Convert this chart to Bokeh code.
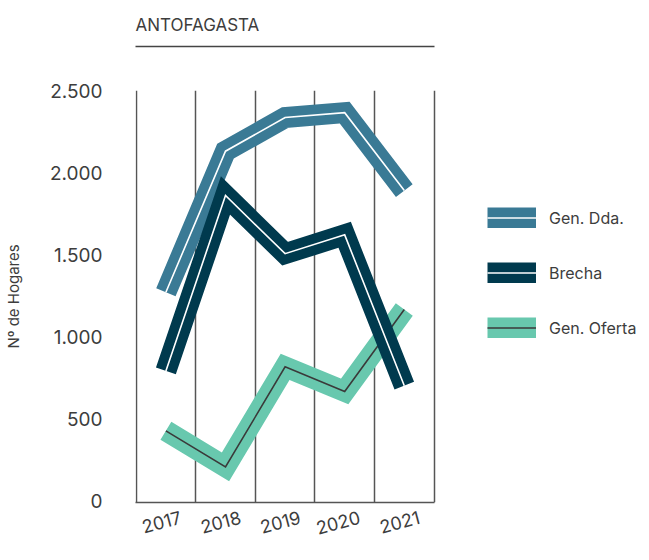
from bokeh.plotting import figure
from bokeh.models import Range1d, FixedTicker, Legend, LegendItem, LinearAxis
from bokeh.embed import file_html
from bokeh.resources import INLINE

years = ["2017", "2018", "2019", "2020", "2021"]
gen_dda = [1270, 2130, 2335, 2365, 1890]
brecha = [790, 1860, 1505, 1620, 700]
gen_oferta = [425, 205, 815, 665, 1165]
y_ticks = [0, 500, 1000, 1500, 2000, 2500]
y_tick_labels = ["0", "500", "1.000", "1.500", "2.000", "2.500"]

FONT = "Inter"
TXT = "#3d3d3d"
GRID = "#555555"
LABEL_SHIFT = 0.25   # rotated labels are right-anchored; nudge so they sit under their column
COL_PX = 59.6        # width of one year column in pixels
FRAME_W = 503        # frame also hosts the legend on its right
X0 = -0.51
X_BOUNDS = (X0, len(years) - 1 + 0.51)

x = list(range(len(years)))

p = figure(frame_width=FRAME_W, frame_height=412, output_backend="svg", toolbar_location=None,
           x_range=Range1d(X0, X0 + FRAME_W / COL_PX), y_range=Range1d(-12, 2500),
           min_border_left=128, min_border_right=0, min_border_top=86,
           min_border_bottom=46)
p.outline_line_color = None
p.background_fill_color = "white"
p.border_fill_color = "white"

# x axis (below)
xa = p.below[0]
xa.ticker = FixedTicker(ticks=[i + LABEL_SHIFT for i in x])
xa.major_label_overrides = {i + LABEL_SHIFT: y for i, y in zip(x, years)}
xa.major_label_orientation = 0.26
xa.major_label_standoff = 14
xa.major_label_text_font = FONT
xa.major_label_text_font_size = "18px"
xa.major_label_text_color = TXT
xa.axis_line_color = GRID
xa.axis_line_width = 1.5
xa.bounds = X_BOUNDS
xa.major_tick_line_color = None
xa.minor_tick_line_color = None
xa.major_tick_out = 0
xa.major_tick_in = 0

# y axis
ya = p.left[0]
ya.ticker = FixedTicker(ticks=y_ticks)
ya.major_label_overrides = dict(zip(y_ticks, y_tick_labels))
ya.major_label_standoff = 33
ya.major_label_text_font = FONT
ya.major_label_text_font_size = "19px"
ya.major_label_text_color = TXT
ya.axis_line_color = None
ya.major_tick_line_color = None
ya.minor_tick_line_color = None
ya.major_tick_out = 0
ya.major_tick_in = 0
ya.axis_label = "Nº de Hogares"
ya.axis_label_standoff = 24
ya.axis_label_text_font = FONT
ya.axis_label_text_font_size = "15px"
ya.axis_label_text_font_style = "normal"
ya.axis_label_text_color = TXT

# grids
p.ygrid.visible = False
p.xgrid.ticker = FixedTicker(ticks=[i - 0.5 for i in range(len(years) + 1)])
p.xgrid.grid_line_color = GRID
p.xgrid.grid_line_width = 1.5


def blank_axis(line_color, tick_out):
    return LinearAxis(ticker=FixedTicker(ticks=[0], minor_ticks=[]), bounds=X_BOUNDS,
                      major_label_overrides={0: ""}, major_label_text_font_size="0px",
                      axis_line_color=line_color, axis_line_width=1.5,
                      major_tick_line_color=None, minor_tick_line_color=None,
                      major_tick_out=tick_out, major_tick_in=0, minor_tick_out=0,
                      minor_tick_in=0, major_label_standoff=0)


# title with underline: spacer axis + rule axis stacked above the frame
p.add_layout(blank_axis(None, 44), "above")
p.add_layout(blank_axis("#444444", 0), "above")

p.title.text = "ANTOFAGASTA"
p.title.text_font = FONT
p.title.text_font_size = "17px"
p.title.text_font_style = "normal"
p.title.text_color = TXT
p.title.align = "left"
p.title.standoff = 24

series = {}
for key, vals, col, inner in [
    ("Gen. Dda.", gen_dda, "#3a7a95", "white"),
    ("Gen. Oferta", gen_oferta, "#68c8ae", "#3a3a3a"),
    ("Brecha", brecha, "#003a4e", "white"),
]:
    b = p.line(x, vals, line_width=21, line_color=col, line_join="miter", line_cap="butt")
    t = p.line(x, vals, line_width=1.6, line_color=inner, line_join="miter", line_cap="butt")
    series[key] = [b, t]

legend = Legend(items=[LegendItem(label=k, renderers=series[k]) for k in ["Gen. Dda.", "Brecha", "Gen. Oferta"]],
                location=(352, 164), glyph_width=49, glyph_height=21, label_height=21,
                label_standoff=13, spacing=34, padding=0, margin=0,
                border_line_color=None, background_fill_alpha=0,
                label_text_font=FONT, label_text_font_size="16px", label_text_color=TXT)
p.add_layout(legend)

open("out.html", "w").write(file_html(p, INLINE))
